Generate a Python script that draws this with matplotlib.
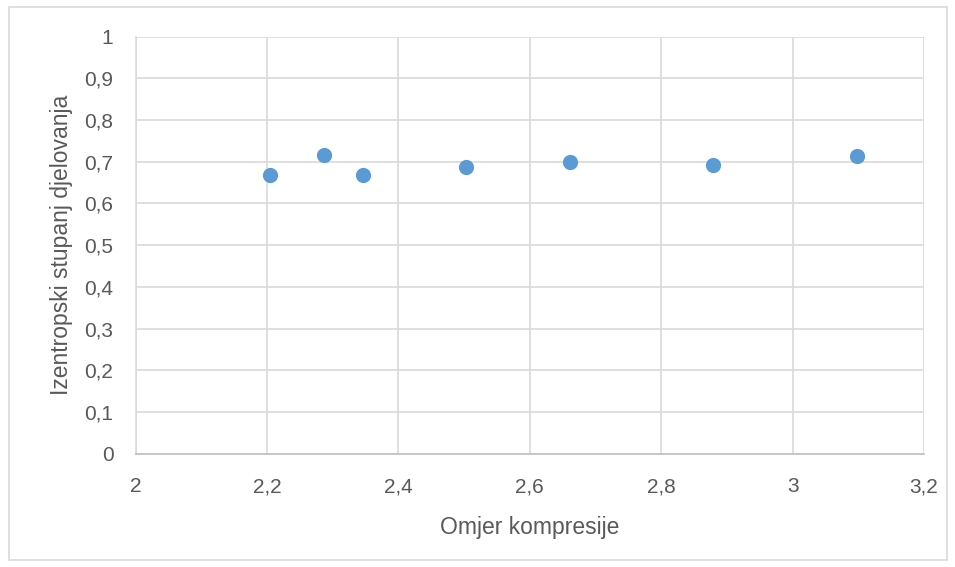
import matplotlib.pyplot as plt
from matplotlib.patches import Rectangle
from matplotlib.ticker import FuncFormatter

# podaci očitani s grafa
omjer = [2.205, 2.287, 2.346, 2.503, 2.661, 2.879, 3.098]
eta = [0.668, 0.717, 0.669, 0.688, 0.700, 0.693, 0.715]
x_ticks = [2.0, 2.2, 2.4, 2.6, 2.8, 3.0, 3.2]
y_ticks = [0, 0.1, 0.2, 0.3, 0.4, 0.5, 0.6, 0.7, 0.8, 0.9, 1.0]

plt.rcParams['font.family'] = ['Liberation Sans', 'DejaVu Sans']
txt = '#595959'
grid = '#D9D9D9'

fig = plt.figure(figsize=(9.55, 5.67), dpi=100)
ax = fig.add_axes([0.1421, 0.1998, 0.8254, 0.7355])

ax.scatter(omjer, eta, s=120, color='#5B9BD5', zorder=3, linewidths=0)

ax.set_xlim(2, 3.2)
ax.set_ylim(0, 1)
ax.set_xticks(x_ticks)
ax.set_yticks(y_ticks)

def zarez(v, pos):
    s = ('%.1f' % v).rstrip('0').rstrip('.')
    return s.replace('.', ',')

ax.xaxis.set_major_formatter(FuncFormatter(zarez))
ax.yaxis.set_major_formatter(FuncFormatter(zarez))
ax.tick_params(length=0, labelsize=15, labelcolor=txt)
ax.tick_params(axis='x', pad=17)
ax.tick_params(axis='y', pad=16)

ax.grid(True, color=grid, linewidth=1.2)
ax.set_axisbelow(True)
for s in ['top', 'right']:
    ax.spines[s].set_visible(False)
ax.spines['left'].set_color(grid)
ax.spines['bottom'].set_color('#BFBFBF')
ax.spines['left'].set_linewidth(1.2)
ax.spines['bottom'].set_linewidth(1.2)

ax.set_xlabel('Omjer kompresije', fontsize=16.5, color=txt, labelpad=14)
ax.set_ylabel('Izentropski stupanj djelovanja', fontsize=16.5, color=txt, labelpad=8)

# okvir oko grafikona
fig.patches.append(Rectangle((9 / 955, 7 / 567), 938 / 955, 553 / 567,
                             transform=fig.transFigure, fill=False,
                             edgecolor='#D9D9D9', linewidth=1.2))

fig.savefig('out.png', dpi=100)
